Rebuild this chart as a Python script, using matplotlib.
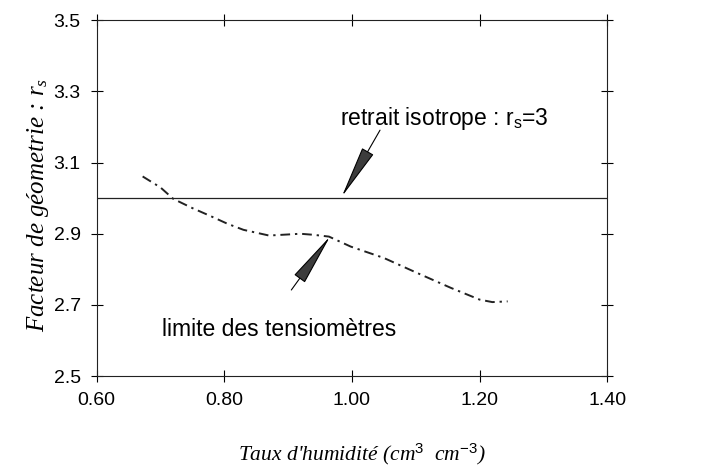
import matplotlib
matplotlib.use("Agg")
import matplotlib.pyplot as plt
import numpy as np

# valeurs
taux = [0.672, 0.700, 0.720, 0.750, 0.778, 0.805, 0.830, 0.870, 0.900, 0.919,
        0.940, 0.964, 0.998, 1.050, 1.102, 1.155, 1.200, 1.220, 1.244]
rs = [3.061, 3.030, 2.998, 2.972, 2.950, 2.928, 2.911, 2.895, 2.898, 2.900,
      2.897, 2.892, 2.864, 2.832, 2.790, 2.748, 2.715, 2.708, 2.710]

rs_iso = 3.0
xticks = [0.60, 0.80, 1.00, 1.20, 1.40]
yticks = [2.5, 2.7, 2.9, 3.1, 3.3, 3.5]

plt.rcParams['font.family'] = 'Liberation Sans'
plt.rcParams['mathtext.fontset'] = 'custom'
plt.rcParams['mathtext.rm'] = 'Liberation Sans'
plt.rcParams['mathtext.it'] = 'Liberation Serif:italic'

fig = plt.figure(figsize=(7.11, 4.69), dpi=100)
ax = fig.add_axes([0.136, 0.198, 0.718, 0.759])

ax.axhline(rs_iso, color='#222222', lw=0.9)
ax.plot(taux, rs, color='#222222', lw=1.4, linestyle=(0, (5, 2.5, 1.2, 2.5)))

ax.set_xlim(0.6, 1.4)
ax.set_ylim(2.5, 3.5)
ax.set_xticks(xticks)
ax.set_xticklabels(["%.2f" % v for v in xticks])
ax.set_yticks(yticks)
ax.set_yticklabels(["%.1f" % v for v in yticks])
ax.tick_params(direction='inout', length=9, width=0.8, labelsize=14,
               top=True, right=True, pad=7)
for s in ax.spines.values():
    s.set_linewidth(0.8)
    s.set_color('#222222')

# flèches
fleche = dict(arrowstyle='-|>,head_length=3.4,head_width=0.42', mutation_scale=10,
              facecolor='#3c3c3c', edgecolor='black', lw=0.8, shrinkA=0, shrinkB=0)
ax.annotate('', xy=(0.984, 3.004), xytext=(1.044, 3.191), arrowprops=fleche)
ax.annotate('', xy=(0.966, 2.893), xytext=(0.905, 2.742), arrowprops=fleche)

ax.text(0.982, 3.225, r'retrait isotrope : r$_{\mathrm{s}}$=3', fontsize=16.5, va='center')
ax.text(0.703, 2.632, 'limite des tensiomètres', fontsize=16.5, va='center')

ax.set_xlabel(r"Taux d'humidité (cm$^{\mathit{3}}$  cm$^{\mathit{-3}}$)",
              family='Liberation Serif', style='italic', fontsize=15.5)
ax.xaxis.set_label_coords(0.52, -0.183)
ax.set_ylabel(r"Facteur de géometrie : $r_s$",
              family='Liberation Serif', style='italic', fontsize=18)
ax.yaxis.set_label_coords(-0.09, 0.48)

fig.savefig("out.png", dpi=100)
